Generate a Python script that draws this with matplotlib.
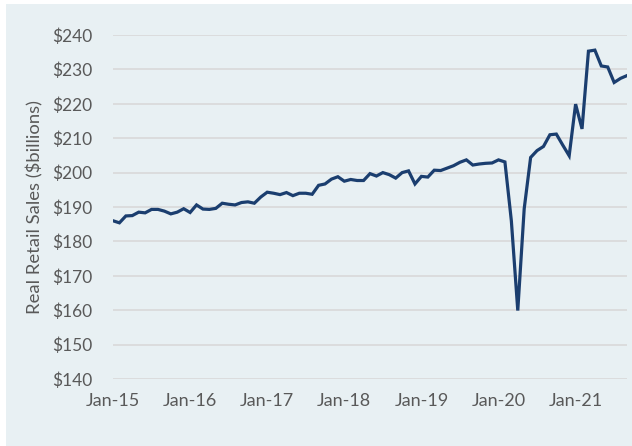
import matplotlib.pyplot as plt
from matplotlib.patches import Rectangle

# monthly real retail sales, Jan-15 .. Sep-21 ($billions)
sales_2015 = [186.0, 185.4, 187.4, 187.5, 188.5, 188.3, 189.3, 189.3, 188.8, 188.0, 188.5, 189.5]
sales_2016 = [188.4, 190.6, 189.4, 189.3, 189.6, 191.1, 190.8, 190.6, 191.3, 191.5, 191.1, 192.9]
sales_2017 = [194.3, 194.0, 193.6, 194.2, 193.3, 194.0, 194.0, 193.7, 196.3, 196.7, 198.1, 198.8]
sales_2018 = [197.5, 198.0, 197.7, 197.7, 199.7, 199.0, 200.0, 199.4, 198.4, 200.0, 200.5, 196.7]
sales_2019 = [198.9, 198.7, 200.7, 200.6, 201.3, 202.0, 203.0, 203.7, 202.2, 202.5, 202.7, 202.8]
sales_2020 = [203.7, 203.1, 186.0, 159.9, 189.5, 204.4, 206.4, 207.6, 211.0, 211.2, 208.0, 204.9]
sales_2021 = [219.9, 212.7, 235.3, 235.6, 231.0, 230.7, 226.2, 227.4, 228.2]

sales = sales_2015 + sales_2016 + sales_2017 + sales_2018 + sales_2019 + sales_2020 + sales_2021
months = list(range(len(sales)))

tick_pos = [0, 12, 24, 36, 48, 60, 72]
tick_labels = ['Jan-15', 'Jan-16', 'Jan-17', 'Jan-18', 'Jan-19', 'Jan-20', 'Jan-21']
y_ticks = list(range(140, 241, 10))

bg = '#E8F0F3'
txt = '#595959'

plt.rcParams['font.family'] = ['Lato', 'DejaVu Sans']

fig = plt.figure(figsize=(6.32, 4.46), dpi=100)
fig.patch.set_facecolor('white')
fig.patches.append(Rectangle((6 / 632, 0), 1, 442 / 446, transform=fig.transFigure,
                             facecolor=bg, edgecolor='none', zorder=-1))

ax = fig.add_axes([113 / 632, 67 / 446, 514 / 632, 344 / 446])
ax.set_facecolor(bg)
ax.patch.set_alpha(0)

ax.plot(months, sales, color='#1B3E6F', linewidth=2.3, solid_joinstyle='miter', zorder=3)

ax.set_ylim(140, 240)
ax.set_xlim(0, len(sales) - 1)
ax.set_yticks(y_ticks)
ax.set_yticklabels(['$%d' % v for v in y_ticks])
ax.set_xticks(tick_pos)
ax.set_xticklabels(tick_labels)
ax.grid(axis='y', color='#D9D9D9', linewidth=1.2)
ax.set_axisbelow(True)

for s in ax.spines.values():
    s.set_visible(False)

ax.tick_params(axis='y', length=0, pad=15, labelsize=12.5, labelcolor=txt)
ax.tick_params(axis='x', length=0, pad=10, labelsize=13, labelcolor=txt)
ax.set_ylabel('Real Retail Sales ($billions)', fontsize=13.3, color=txt, labelpad=6)

fig.savefig('out.png', dpi=100, facecolor=fig.get_facecolor())
